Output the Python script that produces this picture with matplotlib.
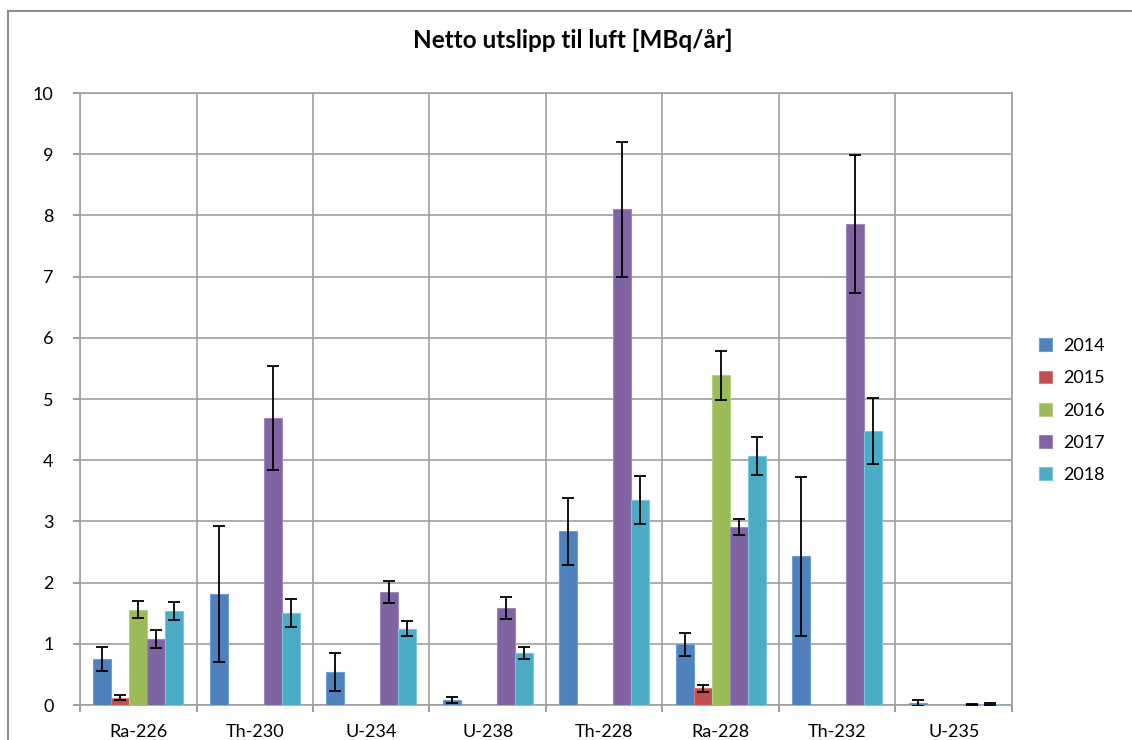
import numpy as np
import matplotlib
matplotlib.use("Agg")
import matplotlib.pyplot as plt
from matplotlib.lines import Line2D

categories = ["Ra-226", "Th-230", "U-234", "U-238", "Th-228", "Ra-228", "Th-232", "U-235"]
years = ["2014", "2015", "2016", "2017", "2018"]
nan = np.nan
v2014 = [0.75, 1.81, 0.54, 0.08, 2.84, 0.99, 2.43, 0.03]
v2015 = [0.12, nan, nan, nan, nan, 0.27, nan, nan]
v2016 = [1.56, nan, nan, nan, nan, 5.39, nan, nan]
v2017 = [1.08, 4.69, 1.85, 1.58, 8.10, 2.91, 7.86, 0.01]
v2018 = [1.54, 1.50, 1.25, 0.85, 3.35, 4.07, 4.48, 0.02]
e2014 = [0.19, 1.11, 0.31, 0.05, 0.55, 0.19, 1.30, 0.05]
e2015 = [0.04, nan, nan, nan, nan, 0.055, nan, nan]
e2016 = [0.14, nan, nan, nan, nan, 0.40, nan, nan]
e2017 = [0.15, 0.85, 0.18, 0.18, 1.10, 0.13, 1.12, 0.01]
e2018 = [0.15, 0.23, 0.13, 0.10, 0.40, 0.31, 0.54, 0.02]
values = [v2014, v2015, v2016, v2017, v2018]
errors = [e2014, e2015, e2016, e2017, e2018]
colors = ["#4F81BD", "#C0504D", "#9BBB59", "#8064A2", "#4BACC6"]
edge_colors = ["#6F9ED6", "#D97A77", "#B5D07C", "#9E86BD", "#79C6DC"]

plt.rcParams['font.family'] = ['Lato', 'DejaVu Sans']

fig = plt.figure(figsize=(11.32, 7.40), dpi=100)
ax = fig.add_axes([80/1132, 1-705/740, (1012-80)/1132, (705-93)/740])

n = len(years)
x = np.arange(len(categories))
w = 1/6.5
for i, (vals, errs) in enumerate(zip(values, errors)):
    pos = x + (i - (n-1)/2) * w
    ax.bar(pos, vals, width=w, color=colors[i], edgecolor=edge_colors[i], linewidth=0.8,
           label=years[i], zorder=3)
    ax.errorbar(pos, vals, yerr=errs, fmt='none', ecolor='black', elinewidth=1.3,
                capsize=4, capthick=1.3, zorder=4)

ax.set_xlim(-0.5, len(categories)-0.5)
ax.set_ylim(0, 10)
ax.set_yticks(range(0, 11))
ax.set_xticks(x)
ax.set_xticklabels(categories)
ax.set_xticks(np.arange(-0.5, len(categories), 1), minor=True)
ax.tick_params(axis='x', which='major', length=0, pad=14, labelsize=13)
ax.tick_params(axis='x', which='minor', length=5, color='#8C8C8C', width=1.2)
ax.tick_params(axis='y', length=5, color='#8C8C8C', width=1.2, pad=14, labelsize=13)
ax.grid(axis='y', color='#A0A0A0', linewidth=1.2, zorder=0)
ax.grid(axis='x', which='minor', color='#A0A0A0', linewidth=1.2, zorder=0)
for s in ax.spines.values():
    s.set_color('#A0A0A0')
    s.set_linewidth(1.2)

ax.legend(loc='center left', bbox_to_anchor=(1.012, 0.481), frameon=False, fontsize=13,
          handlelength=0.7, handleheight=0.7, labelspacing=0.9, handletextpad=0.6)

fig.text(573/1132, 1-40/740, "Netto utslipp til luft [MBq/år]", ha='center', va='center',
         fontsize=17.5, fontweight='bold')

fig.add_artist(Line2D([8/1132, 1], [1-10.5/740, 1-10.5/740], color='#8C8C8C', linewidth=1.5,
                      transform=fig.transFigure))
fig.add_artist(Line2D([8/1132, 8/1132], [1-10.5/740, 0], color='#8C8C8C', linewidth=1.5,
                      transform=fig.transFigure))

fig.savefig("out.png", dpi=100)
